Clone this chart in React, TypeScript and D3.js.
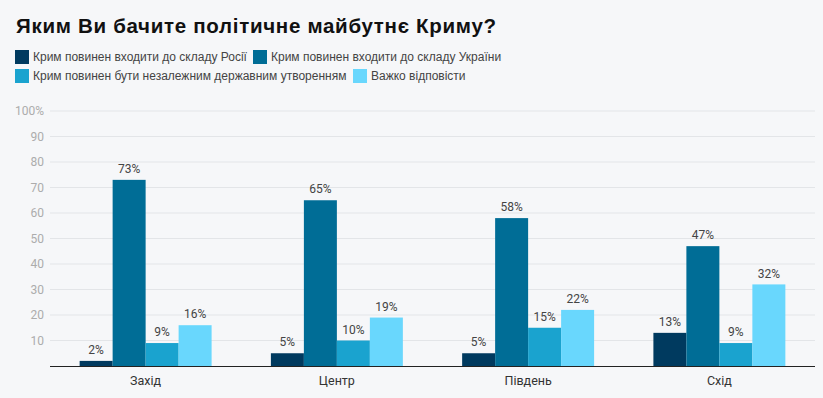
import { useEffect, useRef } from "react";
import * as d3 from "d3";

const WIDTH = 823;
const HEIGHT = 398;

const TITLE = "Яким Ви бачите політичне майбутнє Криму?";
const categories = ["Захід", "Центр", "Південь", "Схід"];
const seriesNames = [
  "Крим повинен входити до складу Росії",
  "Крим повинен входити до складу України",
  "Крим повинен бути незалежним державним утворенням",
  "Важко відповісти",
];
const russia = [2, 5, 5, 13];
const ukraine = [73, 65, 58, 47];
const independent = [9, 10, 15, 9];
const hardToSay = [16, 19, 22, 32];
const yTicks = [10, 20, 30, 40, 50, 60, 70, 80, 90, 100];

const COLORS = ["#003a5f", "#006d96", "#1aa3cf", "#69d7fd"];
const FONT = "'Liberation Sans', Arial, sans-serif";
const NUM_FONT = "Roboto, Arial, sans-serif";
const BG = "#f6f7f9";

const margin = { top: 111, right: 8, bottom: 32, left: 50 };

export default function App() {
  const svgRef = useRef<SVGSVGElement>(null);

  useEffect(() => {
    if (!svgRef.current) return;
    const svg = d3.select(svgRef.current);
    svg.selectAll("*").remove();

    const series = [russia, ukraine, independent, hardToSay];
    const x0 = WIDTH - margin.right;
    const y0 = HEIGHT - margin.bottom;

    svg.append("rect").attr("width", WIDTH).attr("height", HEIGHT).attr("fill", BG);

    // title
    svg.append("text")
      .attr("x", 16)
      .attr("y", 33)
      .attr("font-family", FONT)
      .attr("font-size", 20.5)
      .attr("font-weight", 700)
      .attr("letter-spacing", 0.7)
      .attr("fill", "#111")
      .text(TITLE);

    // legend
    const legendPos = [
      { x: 15, y: 50 },
      { x: 253, y: 50 },
      { x: 15, y: 69 },
      { x: 353, y: 69 },
    ];
    seriesNames.forEach((name, i) => {
      const p = legendPos[i];
      svg.append("rect")
        .attr("x", p.x).attr("y", p.y)
        .attr("width", 14).attr("height", 14)
        .attr("fill", COLORS[i]);
      svg.append("text")
        .attr("x", p.x + 18)
        .attr("y", p.y + 7)
        .attr("dy", "0.35em")
        .attr("font-family", FONT)
        .attr("font-size", 12)
        .attr("fill", "#444")
        .text(name);
    });

    const yScale = d3.scaleLinear().domain([0, 100]).range([y0, margin.top]);
    const xScale = d3.scaleBand()
      .domain(categories)
      .range([margin.left, x0])
      .paddingInner(0.31)
      .paddingOuter(0.155);
    const xSub = d3.scaleBand()
      .domain(seriesNames)
      .range([0, xScale.bandwidth()]);

    // gridlines + ticks
    yTicks.forEach((t) => {
      svg.append("line")
        .attr("x1", margin.left).attr("x2", x0)
        .attr("y1", yScale(t)).attr("y2", yScale(t))
        .attr("stroke", "#e3e5e8")
        .attr("stroke-width", 1);
      svg.append("text")
        .attr("x", 44)
        .attr("y", yScale(t))
        .attr("dy", "0.35em")
        .attr("text-anchor", "end")
        .attr("font-family", NUM_FONT)
        .attr("font-size", 12)
        .attr("fill", "#acacac")
        .text(t === 100 ? "100%" : String(t));
    });

    // bars
    categories.forEach((cat, ci) => {
      const gx = xScale(cat) ?? 0;
      series.forEach((vals, si) => {
        const v = vals[ci];
        const bx = gx + (xSub(seriesNames[si]) ?? 0);
        const bw = xSub.bandwidth();
        svg.append("rect")
          .attr("x", bx)
          .attr("y", yScale(v))
          .attr("width", bw)
          .attr("height", y0 - yScale(v))
          .attr("fill", COLORS[si]);
        svg.append("text")
          .attr("x", bx + bw / 2)
          .attr("y", yScale(v) - 11)
          .attr("dy", "0.35em")
          .attr("text-anchor", "middle")
          .attr("font-family", NUM_FONT)
          .attr("font-size", 12)
          .attr("fill", "#444")
          .text(`${v}%`);
      });
      svg.append("text")
        .attr("x", gx + xScale.bandwidth() / 2)
        .attr("y", y0 + 15)
        .attr("dy", "0.35em")
        .attr("text-anchor", "middle")
        .attr("font-family", NUM_FONT)
        .attr("font-size", 12.5)
        .attr("fill", "#333")
        .text(cat);
    });

    // baseline
    svg.append("line")
      .attr("x1", margin.left).attr("x2", x0)
      .attr("y1", y0 + 0.5).attr("y2", y0 + 0.5)
      .attr("stroke", "#222")
      .attr("stroke-width", 1);
  }, []);

  return (
    <div style={{ position: "fixed", left: 0, top: 0, width: WIDTH, height: HEIGHT, background: BG }}>
      <svg ref={svgRef} width={WIDTH} height={HEIGHT} style={{ display: "block" }} />
    </div>
  );
}
